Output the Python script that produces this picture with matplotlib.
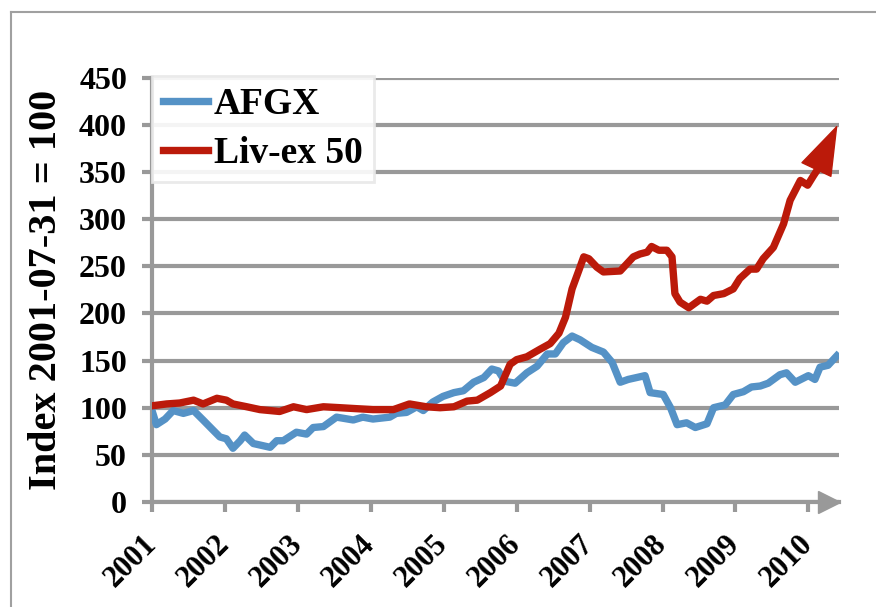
import matplotlib
matplotlib.use('Agg')
import matplotlib.pyplot as plt
from matplotlib.lines import Line2D

# values (decimal year, index level)
afgx_t = [2001.00, 2001.06, 2001.18, 2001.29, 2001.43, 2001.57, 2001.70, 2001.84, 2001.93,
          2002.02, 2002.11, 2002.21, 2002.27, 2002.39, 2002.62, 2002.71, 2002.80, 2002.98,
          2003.12, 2003.21, 2003.35, 2003.53, 2003.76, 2003.89, 2004.03, 2004.26, 2004.35,
          2004.49, 2004.63, 2004.72, 2004.85, 2004.99, 2005.14, 2005.27, 2005.41, 2005.55,
          2005.66, 2005.75, 2005.84, 2005.98, 2006.14, 2006.28, 2006.42, 2006.53, 2006.64,
          2006.76, 2006.87, 2007.03, 2007.19, 2007.31, 2007.42, 2007.53, 2007.76, 2007.83,
          2008.01, 2008.11, 2008.20, 2008.33, 2008.45, 2008.61, 2008.70, 2008.86, 2008.97,
          2009.11, 2009.22, 2009.34, 2009.45, 2009.61, 2009.70, 2009.82, 2010.00, 2010.09,
          2010.16, 2010.27, 2010.39]
afgx = [97, 82, 88, 97, 94, 97, 87, 76, 69,
        67, 57, 65, 71, 62, 58, 65, 65, 74,
        72, 79, 80, 90, 87, 90, 88, 90, 94,
        95, 101, 97, 106, 112, 116, 118, 127, 132,
        141, 139, 128, 126, 137, 144, 157, 157, 169,
        176, 172, 164, 159, 148, 127, 130, 134, 116,
        114, 100, 82, 84, 79, 83, 100, 103, 114,
        117, 122, 123, 126, 135, 137, 127, 134, 130,
        143, 145, 155]

livex_t = [2001.00, 2001.20, 2001.38, 2001.57, 2001.70, 2001.89, 2002.02, 2002.11, 2002.30,
           2002.48, 2002.75, 2002.94, 2003.12, 2003.35, 2003.58, 2003.80, 2004.03, 2004.31,
           2004.53, 2004.76, 2004.95, 2005.14, 2005.32, 2005.46, 2005.64, 2005.78, 2005.91,
           2006.00, 2006.14, 2006.32, 2006.46, 2006.58, 2006.67, 2006.76, 2006.85, 2006.92,
           2006.99, 2007.10, 2007.19, 2007.42, 2007.60, 2007.69, 2007.79, 2007.85, 2007.95,
           2008.06, 2008.13, 2008.17, 2008.24, 2008.36, 2008.52, 2008.61, 2008.70, 2008.84,
           2008.97, 2009.06, 2009.20, 2009.29, 2009.38, 2009.52, 2009.66, 2009.75, 2009.89,
           2009.99, 2010.07, 2010.18, 2010.40]
livex = [102, 104, 105, 108, 104, 110, 108, 104, 101,
         98, 96, 101, 98, 101, 100, 99, 98, 98,
         104, 101, 100, 101, 107, 108, 116, 123, 146,
         151, 154, 162, 168, 179, 196, 226, 245, 260,
         258, 249, 244, 245, 260, 263, 265, 271, 267,
         267, 260, 221, 212, 206, 215, 213, 219, 221,
         226, 237, 247, 247, 258, 270, 295, 320, 341,
         336, 346, 359, 400]

years = list(range(2001, 2011))
yticks = list(range(0, 451, 50))

blue = '#5592c6'
red = '#bb1a0a'
gray = '#999999'

plt.rcParams['font.family'] = ['Liberation Serif', 'DejaVu Serif']
plt.rcParams['font.weight'] = 'bold'

fig = plt.figure(figsize=(8.76, 6.07), dpi=100)
ax = fig.add_axes([152/876, 1-502/607, 687/876, 424.3/607])

ax.plot(afgx_t, afgx, color=blue, lw=5.3, solid_joinstyle='round', label='AFGX', zorder=3)
ax.plot(livex_t[:-1], livex[:-1], color=red, lw=5.3, solid_joinstyle='round',
        label='Liv-ex 50', zorder=4)
# the Liv-ex line ends in an arrow head
ax.annotate('', xy=(livex_t[-1], livex[-1]), xytext=(livex_t[-3], livex[-3]),
            arrowprops=dict(arrowstyle='-|>,head_length=3.4,head_width=1.15',
                            color=red, lw=1, shrinkA=0, shrinkB=0), zorder=4)

ax.set_xlim(2001, 2010.42)
ax.set_ylim(0, 450)
ax.set_xticks(years)
ax.set_xticklabels([str(y) for y in years], rotation=45, ha='right', va='center',
                   rotation_mode='anchor', fontsize=22, fontweight='bold')
ax.set_yticks(yticks)
ax.set_yticklabels([str(v) for v in yticks], fontsize=23, fontweight='bold')

ax.yaxis.grid(True, color=gray, lw=3)
ax.set_axisbelow(True)
for s in ['top', 'right']:
    ax.spines[s].set_visible(False)
for s in ['left', 'bottom']:
    ax.spines[s].set_color(gray)
    ax.spines[s].set_linewidth(3)
ax.tick_params(axis='both', colors=gray, width=3, length=7, labelcolor='black')
ax.tick_params(axis='y', pad=11)
ax.tick_params(axis='x', pad=20)

# arrow at the end of the time axis
ax.plot([0.985], [0], marker='>', ms=16, color=gray, transform=ax.transAxes,
        clip_on=False, zorder=5)

ax.set_ylabel('Index 2001-07-31 = 100', fontsize=29, fontweight='bold', labelpad=10)

leg = ax.legend(loc='upper left', bbox_to_anchor=(0, 1.005), borderaxespad=0,
                fontsize=27, handlelength=1.2, handletextpad=0.15, borderpad=0.3,
                labelspacing=0.38, fancybox=False, framealpha=0.9)
leg.get_frame().set_edgecolor('#e8e8e8')
leg.get_frame().set_linewidth(2)
for t in leg.get_texts():
    t.set_fontweight('bold')

# frame round the picture
fig.add_artist(Line2D([11/876, 11/876], [0, 1-12/607], color='#a0a0a0', lw=1.5))
fig.add_artist(Line2D([11/876, 1], [1-12/607, 1-12/607], color='#a0a0a0', lw=1.5))

fig.savefig('out.png', dpi=100)
